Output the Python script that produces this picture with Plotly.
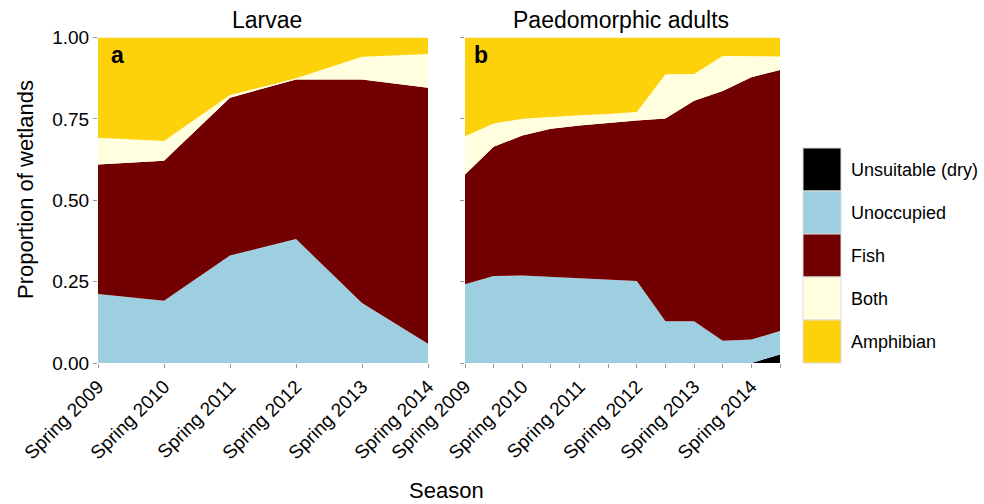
import plotly.graph_objects as go

# Wetland occupancy states, stacked bottom to top
states = ["Unsuitable (dry)", "Unoccupied", "Fish", "Both", "Amphibian"]
colors = ["#000000", "#9ecfe0", "#730000", "#ffffe0", "#fed20b"]

# Panel a: larvae, spring surveys
seasons_a = ["Spring 2009", "Spring 2010", "Spring 2011", "Spring 2012", "Spring 2013", "Spring 2014"]
larvae_dry = [0, 0, 0, 0, 0, 0]
larvae_unoccupied = [0.212, 0.191, 0.330, 0.381, 0.184, 0.059]
larvae_fish = [0.398, 0.430, 0.485, 0.490, 0.687, 0.787]
larvae_both = [0.082, 0.061, 0.008, 0.004, 0.070, 0.103]
larvae_amphibian = [0.308, 0.318, 0.177, 0.125, 0.059, 0.051]

# Panel b: paedomorphic adults, spring and fall surveys
seasons_b = ["Spring 2009", "Fall 2009", "Spring 2010", "Fall 2010", "Spring 2011", "Fall 2011",
             "Spring 2012", "Fall 2012", "Spring 2013", "Fall 2013", "Spring 2014", "Fall 2014"]
adult_dry = [0, 0, 0, 0, 0, 0, 0, 0, 0, 0, 0, 0.026]
adult_unoccupied = [0.242, 0.267, 0.269, 0.265, 0.261, 0.256, 0.252, 0.128, 0.128, 0.068, 0.072, 0.072]
adult_fish = [0.337, 0.397, 0.430, 0.455, 0.469, 0.482, 0.493, 0.623, 0.678, 0.768, 0.806, 0.802]
adult_both = [0.118, 0.072, 0.051, 0.036, 0.031, 0.027, 0.026, 0.136, 0.082, 0.107, 0.065, 0.042]
adult_amphibian = [0.303, 0.264, 0.250, 0.244, 0.239, 0.235, 0.229, 0.113, 0.112, 0.057, 0.057, 0.058]

tick_labels_b = [s if s.startswith("Spring") else "" for s in seasons_b]

panels = [
    (seasons_a, [larvae_dry, larvae_unoccupied, larvae_fish, larvae_both, larvae_amphibian], "x", "y"),
    (seasons_b, [adult_dry, adult_unoccupied, adult_fish, adult_both, adult_amphibian], "x2", "y2"),
]

fig = go.Figure()
for seasons, layers, xa, ya in panels:
    for name, col, vals in zip(states, colors, layers):
        fig.add_trace(go.Scatter(
            x=list(range(len(seasons))), y=vals, name=name,
            mode="lines", line=dict(width=0, color=col),
            fillcolor=col, stackgroup="stack_" + xa,
            xaxis=xa, yaxis=ya, showlegend=False, hoverinfo="skip",
        ))

W, H = 984, 504
def px_x(p):
    return p / W
def px_y(p):
    return 1 - p / H

FONT = "Liberation Sans, Arial, sans-serif"
dom_y = [px_y(363), px_y(37.5)]
tickfont = dict(family=FONT, size=19, color="#000")
axis_common = dict(showgrid=False, zeroline=False, showline=False, ticks="outside",
                   ticklen=4, tickcolor="#999", tickwidth=1, automargin=False)

fig.update_layout(
    width=W, height=H,
    margin=dict(l=0, r=0, t=0, b=0),
    plot_bgcolor="white", paper_bgcolor="white",
    font=dict(family=FONT, size=18, color="#000"),
    xaxis=dict(domain=[px_x(98), px_x(428)], range=[0, len(seasons_a) - 1],
               tickvals=list(range(len(seasons_a))), ticktext=seasons_a,
               tickangle=-45, tickfont=tickfont, **axis_common),
    yaxis=dict(domain=dom_y, range=[0, 1], tickvals=[0, 0.25, 0.5, 0.75, 1.0],
               ticktext=["0.00", "0.25", "0.50", "0.75", "1.00"], tickfont=tickfont,
               **axis_common),
    xaxis2=dict(domain=[px_x(465), px_x(780)], range=[0, len(seasons_b) - 1],
                tickvals=list(range(len(seasons_b))), ticktext=tick_labels_b,
                tickangle=-45, tickfont=tickfont, anchor="y2", **axis_common),
    yaxis2=dict(domain=dom_y, range=[0, 1], tickvals=[0, 0.25, 0.5, 0.75, 1.0],
                showticklabels=False, anchor="x2", **axis_common),
)

annotations = [
    dict(text="Larvae", x=px_x(267), y=px_y(20), font=dict(size=23)),
    dict(text="Paedomorphic adults", x=px_x(621), y=px_y(20), font=dict(size=23)),
    dict(text="<b>a</b>", x=px_x(117), y=px_y(55), font=dict(size=23)),
    dict(text="<b>b</b>", x=px_x(481), y=px_y(55), font=dict(size=23)),
    dict(text="Season", x=px_x(446), y=px_y(490), font=dict(size=22)),
    dict(text="Proportion of wetlands", x=px_x(25), y=px_y(190), textangle=-90,
         font=dict(size=22)),
]

# Legend: stacked colour keys with labels, top to bottom
key_top, key_h = 148, 43
for i, (name, col) in enumerate(zip(states, colors)):
    y0 = key_top + i * key_h
    fig.add_shape(type="rect", xref="paper", yref="paper",
                  x0=px_x(803), x1=px_x(841), y0=px_y(y0 + key_h), y1=px_y(y0),
                  fillcolor=col, line=dict(color="#dddddd", width=1))
    annotations.append(dict(text=name, x=px_x(849), y=px_y(y0 + key_h / 2),
                            xanchor="left", font=dict(size=18)))

for a in annotations:
    a.setdefault("xanchor", "center")
    a.update(xref="paper", yref="paper", showarrow=False, yanchor="middle")
fig.update_layout(annotations=annotations)

fig.write_html("out.html")
